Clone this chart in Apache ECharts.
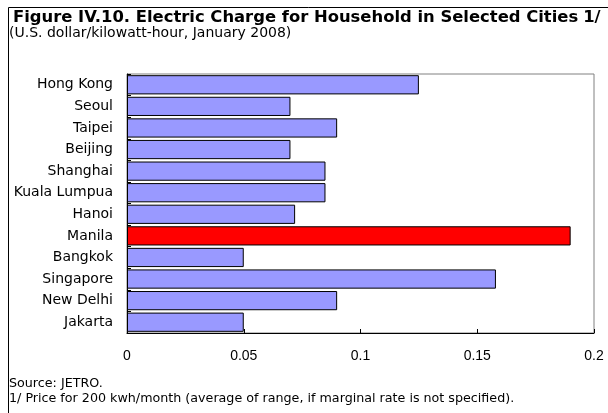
<!DOCTYPE html>
<html><head><meta charset="utf-8">
<script src="https://cdn.jsdelivr.net/npm/echarts@6/dist/echarts.min.js"></script>
<style>html,body{margin:0;padding:0;background:#fff}#c{width:608px;height:413px}</style>
</head><body><div id="c"></div>
<script>
var cities = ["Hong Kong","Seoul","Taipei","Beijing","Shanghai","Kuala Lumpua","Hanoi","Manila","Bangkok","Singapore","New Delhi","Jakarta"];
var values = [0.125,0.07,0.09,0.07,0.085,0.085,0.072,0.19,0.05,0.158,0.09,0.05];
var highlight = "Manila";
var xTicks = [0,0.05,0.1,0.15,0.2];

var chart = echarts.init(document.getElementById('c'), null, {renderer:'canvas'});
var FD = '"DejaVu Sans", sans-serif';
var FA = 'Arial, "Liberation Sans", sans-serif';
chart.setOption({
  animation:false,
  backgroundColor:'#fff',
  title:[{
    left:8, top:4,
    text:'{b|Figure IV.10. Electric Charge for Household in Selected Cities} {n|1/}',
    textStyle:{rich:{
      b:{fontFamily:FD,fontWeight:'bold',fontSize:16.4,color:'#000'},
      n:{fontFamily:FD,fontSize:16.4,color:'#000'}
    }}
  },{
    left:4, top:21, text:'(U.S. dollar/kilowatt-hour, January 2008)',
    textStyle:{fontFamily:FD,fontWeight:'normal',fontSize:14,color:'#000'}
  },{
    left:4, top:372, text:'Source: JETRO.',
    textStyle:{fontFamily:FD,fontWeight:'normal',fontSize:12.7,color:'#000'}
  },{
    left:4, top:387, text:'1/ Price for 200 kwh/month (average of range, if marginal rate is not specified).',
    textStyle:{fontFamily:FD,fontWeight:'normal',fontSize:12.7,color:'#000'}
  }],
  graphic:[
    {type:'line',shape:{x1:8.5,y1:7.5,x2:608,y2:7.5},style:{stroke:'#000',lineWidth:1}},
    {type:'line',shape:{x1:8.5,y1:7.5,x2:8.5,y2:413},style:{stroke:'#000',lineWidth:1}}
  ],
  grid:{left:127,right:14,top:74,bottom:80,show:true,borderColor:'#808080',borderWidth:1,backgroundColor:'transparent'},
  xAxis:{
    type:'value',min:xTicks[0],max:xTicks[xTicks.length-1],interval:0.05,
    axisLine:{show:true,lineStyle:{color:'#000'}},
    axisTick:{show:true,inside:true,length:4,lineStyle:{color:'#000'}},
    splitLine:{show:false},
    axisLabel:{fontFamily:FA,fontSize:14,color:'#000',margin:16}
  },
  yAxis:{
    type:'category',data:cities,inverse:true,
    axisLine:{show:true,lineStyle:{color:'#000'}},
    axisTick:{show:true,inside:true,length:4,lineStyle:{color:'#000'}},
    axisLabel:{fontFamily:FD,fontSize:14,color:'#000',margin:14}
  },
  series:[{
    type:'bar',barCategoryGap:'11%',
    data:values.map(function(v,i){
      return {value:v,itemStyle:{color:cities[i]===highlight?'#FF0000':'#9999FF'}};
    }),
    itemStyle:{borderColor:'#000',borderWidth:1}
  }]
});
</script></body></html>
